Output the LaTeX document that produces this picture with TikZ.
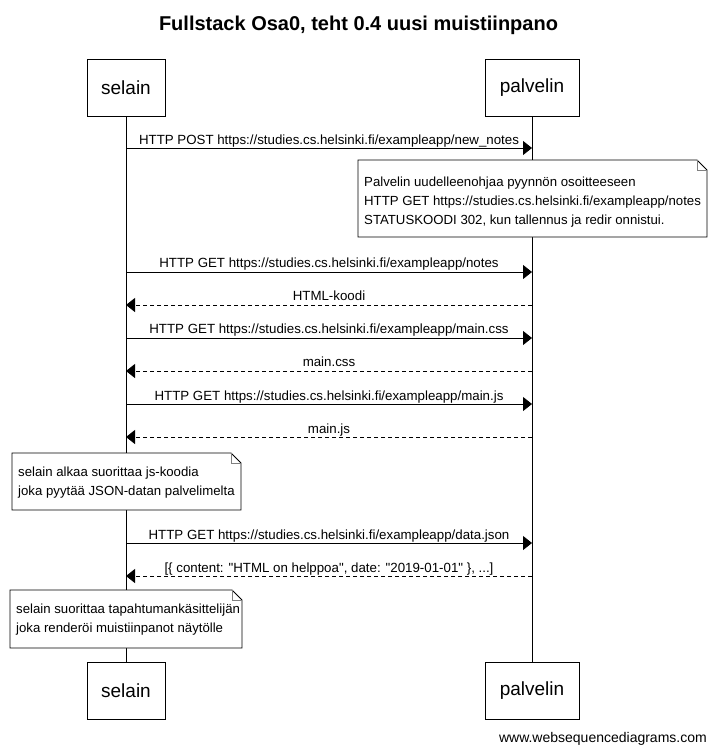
\documentclass[tikz,border=0pt]{standalone}
\usepackage{fontspec}
\setmainfont{Liberation Sans}[Ligatures=TeXOff]
\usetikzlibrary{arrows.meta}
\begin{document}
\begin{tikzpicture}[x=1pt,y=-1pt,
  actor/.style={draw,fill=white,line width=0.8pt,minimum width=78pt,minimum height=57pt,inner sep=0pt,font=\fontsize{19}{21}\selectfont},
  msg/.style={line width=0.8pt,-{Triangle[length=9pt,width=14pt]}},
  ret/.style={msg,dash pattern=on 4pt off 3pt},
  lbl/.style={font=\fontsize{13.3}{15}\selectfont,inner sep=0pt,anchor=base},
  notetext/.style={font=\fontsize{13.2}{15}\selectfont,align=left,inner sep=0pt,anchor=north west},
  life/.style={line width=0.8pt},
  notebox/.style={draw,fill=white,line width=0.8pt},
  fold/.style={draw=gray,line width=0.6pt}
]
\useasboundingbox (0,0) rectangle (717,752);
\fill[white] (0,0) rectangle (717,752);
\node[font=\bfseries\fontsize{20}{22}\selectfont,anchor=base] (title) at (358.5,31) {Fullstack Osa0, teht 0.4 uusi muistiinpano};

% participants
\node[actor] (s) at (126,87.5) {selain};
\node[actor,minimum width=94pt] (p) at (532,87.5) {palvelin};
\node[actor] (sb) at (126,690.5) {selain};
\node[actor,minimum width=94pt] (pb) at (532,690.5) {palvelin};
\draw[life] (s.south) -- (sb.north);
\draw[life] (p.south) -- (pb.north);

% message coordinates
\foreach \n/\y in {1/148,3/272,4/305,5/338,6/371,7/404,8/437,10/543,11/576}{
  \coordinate (s\n) at (126,\y);
  \coordinate (p\n) at (532,\y);
}

\draw[msg] (s1) -- (p1);
\node[lbl] (l1) at (329,144.5) {HTTP POST https://studies.cs.helsinki.fi/exampleapp/new\_notes};

% note 1
\draw[notebox] (358,160) -- (697,160) -- (707,170) -- (707,237) -- (358,237) -- cycle;
\draw[fold] (697,160) -- (697,170) -- (707,170);
\node[notetext] (n1) at (364,176.5) {Palvelin uudelleenohjaa pyynnön osoitteeseen\\[4pt]HTTP GET https://studies.cs.helsinki.fi/exampleapp/notes\\[4pt]STATUSKOODI 302, kun tallennus ja redir onnistui.};

\draw[msg] (s3) -- (p3);
\node[lbl] (l3) at (329,267.5) {HTTP GET https://studies.cs.helsinki.fi/exampleapp/notes};
\draw[ret] (p4) -- (s4);
\node[lbl] (l4) at (329,300.5) {HTML-koodi};
\draw[msg] (s5) -- (p5);
\node[lbl] (l5) at (329,333.5) {HTTP GET https://studies.cs.helsinki.fi/exampleapp/main.css};
\draw[ret] (p6) -- (s6);
\node[lbl] (l6) at (329,366.5) {main.css};
\draw[msg] (s7) -- (p7);
\node[lbl] (l7) at (329,400.5) {HTTP GET https://studies.cs.helsinki.fi/exampleapp/main.js};
\draw[ret] (p8) -- (s8);
\node[lbl] (l8) at (329,433.5) {main.js};

% note 2
\draw[notebox] (12,453) -- (231,453) -- (241,463) -- (241,510) -- (12,510) -- cycle;
\draw[fold] (231,453) -- (231,463) -- (241,463);
\node[notetext] (n2) at (18,466.5) {selain alkaa suorittaa js-koodia\\[4pt]joka pyytää JSON-datan palvelimelta};

\draw[msg] (s10) -- (p10);
\node[lbl] (l10) at (329,539.5) {HTTP GET https://studies.cs.helsinki.fi/exampleapp/data.json};
\draw[ret] (p11) -- (s11);
\node[lbl] (l11) at (329,572.5) {[\{ content: "HTML on helppoa", date: "2019-01-01" \}, ...]};

% note 3
\draw[notebox] (10,590) -- (232,590) -- (242,600) -- (242,648) -- (10,648) -- cycle;
\draw[fold] (232,590) -- (232,600) -- (242,600);
\node[notetext] (n3) at (16,604) {selain suorittaa tapahtumankäsittelijän\\[4pt]joka renderöi muistiinpanot näytölle};

\node[font=\fontsize{14}{16}\selectfont,anchor=base east,inner sep=0pt] (wm) at (707,742) {www.websequencediagrams.com};
\end{tikzpicture}
\end{document}
